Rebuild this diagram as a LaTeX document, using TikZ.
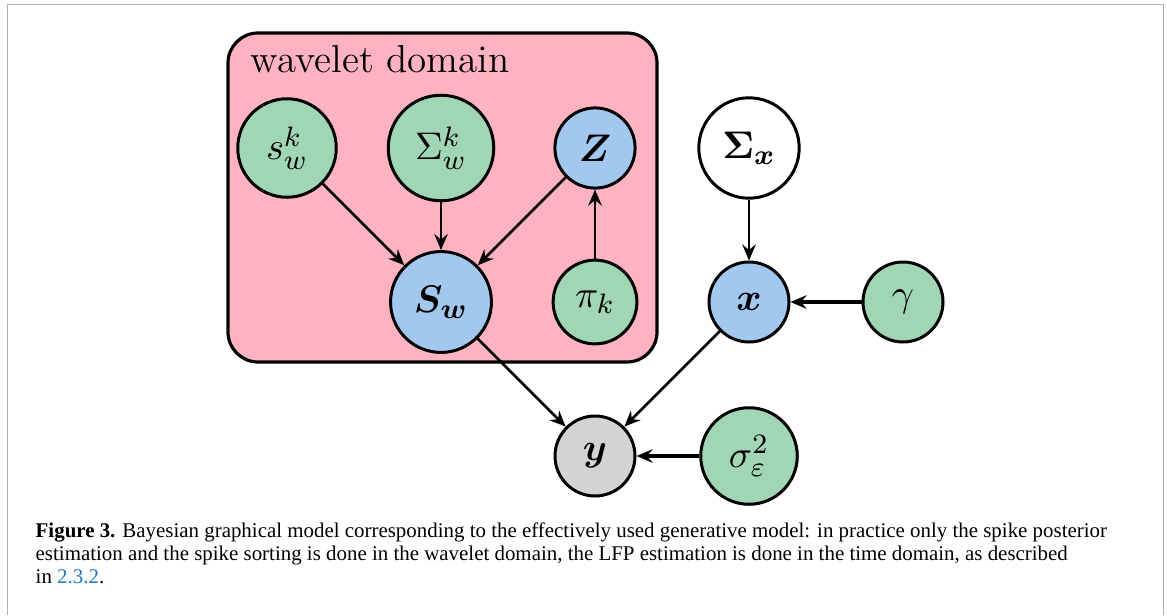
\documentclass[tikz,border=0pt]{standalone}
\usepackage{amsmath,amssymb,bm}
\usepackage{fontspec}
\usepackage{tikz}
\usetikzlibrary{positioning,arrows.meta,backgrounds}
\newfontfamily\capfont{Liberation Serif}
\definecolor{obsgreen}{RGB}{160,214,180}
\definecolor{latblue}{RGB}{163,200,240}
\definecolor{platepink}{RGB}{255,179,193}
\definecolor{datagray}{RGB}{211,211,211}
\definecolor{framegray}{RGB}{175,175,175}
\definecolor{linkblue}{RGB}{35,120,190}
\tikzset{
  >={Stealth[length=1.6mm,width=1.35mm,inset=0.55mm]},
  node distance=15.4mm and 15.4mm,
  var/.style={circle,draw=black,line width=0.85pt,minimum size=8mm,
    inner sep=3.9pt,font=\fontsize{11}{13}\selectfont},
  hyper/.style={var,fill=obsgreen},
  latent/.style={var,fill=latblue},
  obs/.style={var,fill=datagray},
  fixed/.style={var,fill=white},
  dep/.style={->,line width=0.75pt},
  hdep/.style={->,line width=1.1pt},
  plate/.style={draw=black,line width=0.9pt,fill=platepink,rounded corners=3mm},
  platelbl/.style={font=\fontsize{11.1}{13}\selectfont,inner sep=0pt,anchor=base west},
  caption/.style={font=\capfont\fontsize{5.95}{6.45}\selectfont,inner sep=0pt,
    anchor=base west,align=left},
}
\begin{document}
\begin{tikzpicture}[on grid]
  \useasboundingbox (0,0) rectangle (11.67,-6.15);
  \draw[framegray,line width=0.4pt] (0.073,-6.15) |- (11.635,-0.045) -- (11.635,-6.15);
  \draw[plate] (2.28,-0.33) rectangle (6.57,-3.62);
  \node[platelbl] (wdom) at (2.50,-0.72) {wavelet domain};

  \node[hyper] (sk) at (2.87,-1.48) {$s_w^k$};
  \node[hyper,right=of sk] (Sigk) {$\Sigma_w^k$};
  \node[latent,right=of Sigk] (Z) {$\boldsymbol{Z}$};
  \node[latent,below=of Sigk] (Sw) {$\boldsymbol{S}_{\boldsymbol{w}}$};
  \node[hyper,below=of Z] (pik) {$\pi_k$};
  \node[fixed,right=of Z] (Sigx) {$\boldsymbol{\Sigma}_{\boldsymbol{x}}$};
  \node[latent,below=of Sigx] (x) {$\boldsymbol{x}$};
  \node[hyper,right=of x] (gam) {$\gamma$};
  \node[obs,below=of pik] (y) {$\boldsymbol{y}$};
  \node[hyper,right=of y] (sig) {$\sigma_\varepsilon^2$};

  \draw[dep] (sk) -- (Sw);
  \draw[dep] (Sigk) -- (Sw);
  \draw[dep] (Z) -- (Sw);
  \draw[dep] (pik) -- (Z);
  \draw[dep] (Sigx) -- (x);
  \draw[hdep] (gam) -- (x);
  \draw[dep] (Sw) -- (y);
  \draw[dep] (x) -- (y);
  \draw[hdep] (sig) -- (y);

  \node[caption] (cap) at (0.35,-5.83) {\textbf{Figure 3.} Bayesian graphical model corresponding to the effectively used generative model: in practice only the spike posterior\\
    estimation and the spike sorting is done in the wavelet domain, the LFP estimation is done in the time domain, as described\\
    in \textcolor{linkblue}{2.3.2}.};
\end{tikzpicture}
\end{document}
